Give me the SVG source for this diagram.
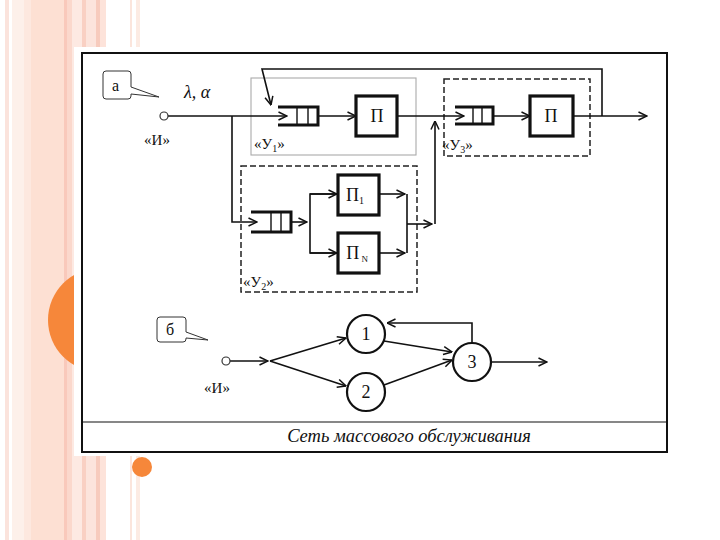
<svg xmlns="http://www.w3.org/2000/svg" width="720" height="540" viewBox="0 0 720 540">
<defs>
<style>
.ln{fill:none;stroke:#111;stroke-width:1.6}
.thk{fill:#fff;stroke:#111;stroke-width:3.2}
.q{fill:none;stroke:#111;stroke-width:3}
.qi{fill:none;stroke:#111;stroke-width:1.4}
.t{fill:#111}
.dash{fill:none;stroke:#222;stroke-width:1.5;stroke-dasharray:6,3}
.gray{fill:none;stroke:#aaa;stroke-width:1.1}
.circ{fill:#fff;stroke:#111;stroke-width:2.2}
</style>
<marker id="arr" viewBox="0 0 10 10" refX="9.5" refY="5" markerWidth="10" markerHeight="10" markerUnits="userSpaceOnUse" orient="auto">
<path d="M1,1 L9.5,5 L1,9" fill="none" stroke="#111" stroke-width="1.5"/>
</marker>
</defs>
<rect width="720" height="540" fill="#fff"/>
<g id="background">
<rect x="5" y="0" width="4" height="540" fill="#fbe3dc"/>
<rect x="12" y="0" width="12" height="540" fill="#fdf0ea"/>
<rect x="24" y="0" width="7" height="540" fill="#fde8df"/>
<rect x="31" y="0" width="33" height="540" fill="#fde0d3"/>
<rect x="64" y="0" width="3" height="540" fill="#f9c9bb"/>
<rect x="67" y="0" width="5" height="540" fill="#fbd8cc"/>
<rect x="72" y="0" width="10" height="540" fill="#fde9e2"/>
<rect x="82" y="0" width="4" height="540" fill="#f9d0c3"/>
<rect x="86" y="0" width="10" height="540" fill="#fce4dc"/>
<rect x="96" y="0" width="4" height="540" fill="#f7cbbd"/>
<rect x="100" y="0" width="6" height="540" fill="#fde3da"/>
<rect x="130" y="0" width="2" height="540" fill="#fbe5dc"/>
<rect x="136" y="0" width="4" height="540" fill="#fcebe3"/>
<circle cx="100" cy="320" r="52" fill="#f6873a"/>
<rect x="74" y="47" width="598" height="409" fill="#fff"/>
<circle cx="142" cy="467" r="10" fill="#f6873a"/>
</g>
<g id="frame">
<rect x="82" y="53" width="585" height="399" fill="#fff" stroke="#111" stroke-width="2"/>
<line x1="82" y1="422" x2="667" y2="422" stroke="#111" stroke-width="1.2"/>
<text class="t" x="409" y="442" font-family="'Liberation Serif', 'DejaVu Serif', serif" font-size="18.5" font-style="italic" text-anchor="middle">Сеть массового обслуживания</text>
</g>
<g id="boxes-a">
<rect class="gray" x="251" y="78" width="165" height="77"/>
<rect class="dash" x="444" y="79" width="146" height="77"/>
<rect class="dash" x="241" y="166" width="176" height="126"/>
</g>
<g id="connectors">
<line class="ln" x1="168" y1="116" x2="287" y2="116" marker-end="url(#arr)"/>
<polyline class="ln" points="232,116 232,222 257,222" marker-end="url(#arr)"/>
<polyline class="ln" points="602,116 602,69 262,69 271,105" marker-end="url(#arr)"/>
<line class="ln" x1="318" y1="116" x2="356" y2="116" marker-end="url(#arr)"/>
<line class="ln" x1="397" y1="116" x2="464" y2="116" marker-end="url(#arr)"/>
<line class="ln" x1="493" y1="116" x2="530" y2="116" marker-end="url(#arr)"/>
<line class="ln" x1="573" y1="116" x2="647" y2="116" marker-end="url(#arr)"/>
<line class="ln" x1="435" y1="224" x2="435" y2="121" marker-end="url(#arr)"/>
<line class="ln" x1="291" y1="222" x2="307" y2="222" marker-end="url(#arr)"/>
<polyline class="ln" points="337,194 310,194 310,253 337,253" />
<line class="ln" x1="310" y1="194" x2="337" y2="194" marker-end="url(#arr)"/>
<line class="ln" x1="310" y1="253" x2="337" y2="253" marker-end="url(#arr)"/>
<line class="ln" x1="379" y1="194" x2="405" y2="194" marker-end="url(#arr)"/>
<line class="ln" x1="379" y1="253" x2="405" y2="253" marker-end="url(#arr)"/>
<line class="ln" x1="407" y1="194" x2="407" y2="253"/>
<line class="ln" x1="407" y1="224" x2="432" y2="224" marker-end="url(#arr)"/>
<line class="ln" x1="230" y1="361" x2="268" y2="361" marker-end="url(#arr)"/>
<line class="ln" x1="270" y1="361" x2="346" y2="338" marker-end="url(#arr)"/>
<line class="ln" x1="270" y1="361" x2="346" y2="386" marker-end="url(#arr)"/>
<line class="ln" x1="384" y1="341" x2="452" y2="352" marker-end="url(#arr)"/>
<line class="ln" x1="384" y1="385" x2="452" y2="360" marker-end="url(#arr)"/>
<polyline class="ln" points="472,343 472,323 387,323" marker-end="url(#arr)"/>
<line class="ln" x1="492" y1="362" x2="547" y2="362" marker-end="url(#arr)"/>
</g>
<g font-family="'Liberation Serif', 'DejaVu Serif', serif">
<g id="callout-a">
<path d="M106,71 H128 Q131,71 131,74 V87 L159,97 L131,94 V96 Q131,99 128,99 H106 Q103,99 103,96 V74 Q103,71 106,71 Z" fill="#fff" stroke="#333" stroke-width="1"/>
<text class="t" x="112" y="91" font-size="16">а</text>
</g>
<text class="t" x="184" y="98" font-size="18" font-style="italic">λ, α</text>
<g id="source-a">
<circle cx="164" cy="116" r="4" fill="#fff" stroke="#333" stroke-width="1.2"/>
<text class="t" x="157" y="145" font-size="15" text-anchor="middle">«И»</text>
</g>
<g id="queue1">
<path class="q" d="M278,107 H318 V125 H278"/>
<path class="qi" d="M297,107 V125 M308,107 V125"/>
</g>
<g id="server1">
<rect class="thk" x="356" y="96" width="41" height="40"/>
<text class="t" x="377" y="122" font-size="18" text-anchor="middle">П</text>
</g>
<text class="t" x="254" y="149" font-size="15">«У<tspan font-size="10" dy="3">1</tspan><tspan dy="-3">»</tspan></text>
<g id="queue3">
<path class="q" d="M455,107 H493 V124 H455"/>
<path class="qi" d="M473,107 V124 M482,107 V124"/>
</g>
<g id="server3">
<rect class="thk" x="530" y="96" width="43" height="40"/>
<text class="t" x="551" y="122" font-size="18" text-anchor="middle">П</text>
</g>
<text class="t" x="442" y="150" font-size="15">«У<tspan font-size="10" dy="3">3</tspan><tspan dy="-3">»</tspan></text>
<g id="queue2">
<path class="q" d="M251,212 H291 V232 H251"/>
<path class="qi" d="M271,212 V232 M281,212 V232"/>
</g>
<g id="server2-1">
<rect class="thk" x="338" y="175" width="41" height="40"/>
<text class="t" x="355" y="201" font-size="18" text-anchor="middle">П<tspan font-size="10" dy="3">1</tspan></text>
</g>
<g id="server2-N">
<rect class="thk" x="338" y="233" width="41" height="40"/>
<text class="t" x="357" y="259" font-size="18" text-anchor="middle">П<tspan font-size="9" dy="3"> N</tspan></text>
</g>
<text class="t" x="243" y="287" font-size="15">«У<tspan font-size="10" dy="3">2</tspan><tspan dy="-3">»</tspan></text>
<g id="callout-b">
<path d="M160,317 H183 Q186,317 186,320 V332 L208,340 L186,338 V339 Q186,342 183,342 H160 Q157,342 157,339 V320 Q157,317 160,317 Z" fill="#fff" stroke="#333" stroke-width="1"/>
<text class="t" x="166" y="335" font-size="16">б</text>
</g>
<g id="source-b">
<circle cx="226" cy="361" r="4" fill="#fff" stroke="#333" stroke-width="1.2"/>
<text class="t" x="217" y="393" font-size="15" text-anchor="middle">«И»</text>
</g>
<g id="node1">
<circle class="circ" cx="366" cy="334" r="19"/>
<text class="t" x="366" y="340" font-size="18" text-anchor="middle">1</text>
</g>
<g id="node2">
<circle class="circ" cx="366" cy="392" r="19"/>
<text class="t" x="366" y="398" font-size="18" text-anchor="middle">2</text>
</g>
<g id="node3">
<circle class="circ" cx="472" cy="362" r="19"/>
<text class="t" x="472" y="368" font-size="18" text-anchor="middle">3</text>
</g>
</g>
</svg>
